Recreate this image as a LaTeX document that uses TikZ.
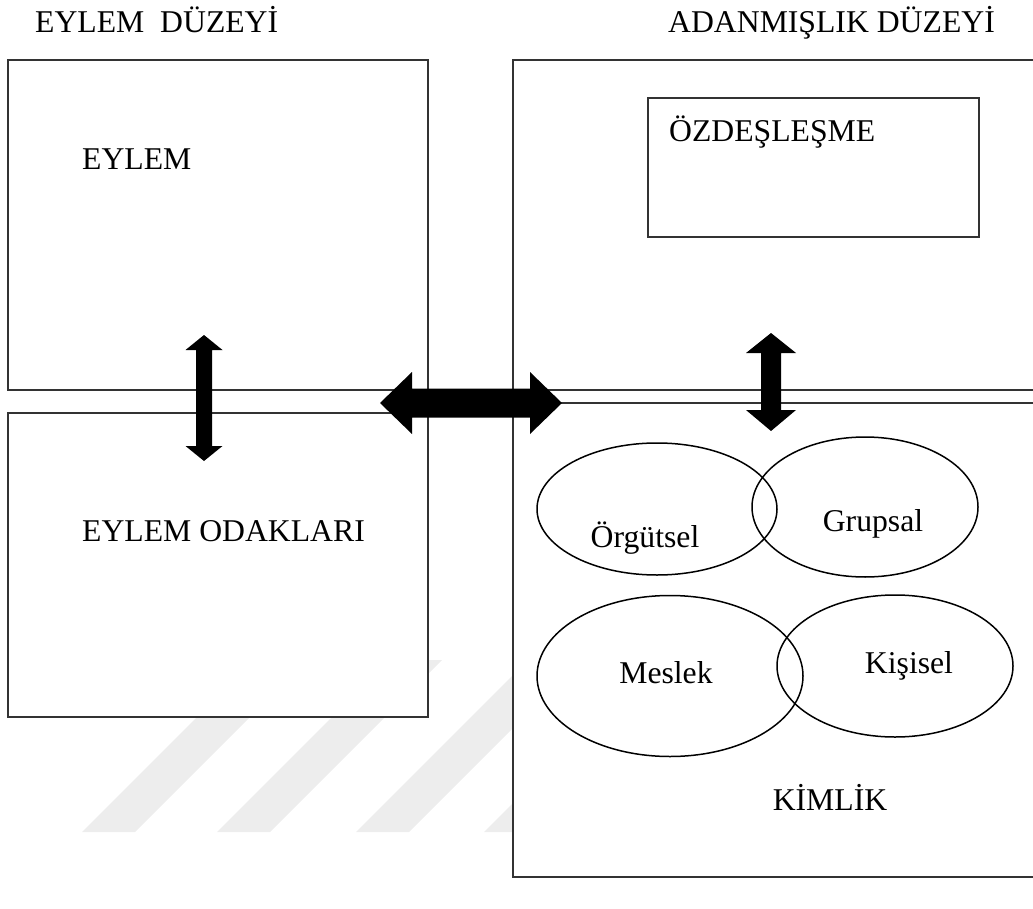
\documentclass[tikz,border=0pt]{standalone}
\usepackage{fontspec}
\setmainfont{Liberation Serif}
\usetikzlibrary{calc,shapes.geometric}
\begin{document}
\begin{tikzpicture}[x=1pt,y=-1pt,
  frame/.style={draw=black!80, line width=1.1pt, fill=white, inner sep=0pt, outer sep=0pt, anchor=north west},
  oval/.style={draw=black, line width=1.5pt, ellipse, inner sep=0pt, outer sep=0pt},
  lbl/.style={font=\fontsize{31.7pt}{38pt}\selectfont, inner sep=0pt, anchor=base west},
  clbl/.style={lbl, anchor=base},
  stripe/.style={fill=black!7},
  bigarrow/.style={fill=black}]
\path[use as bounding box] (0,0) rectangle (1033,909);

% faint diagonal stripes in the background
\foreach \b in {82,217,356,484}
  \fill[stripe] (\b,832) -- (\b+53,832) -- (\b+225,660) -- (\b+172,660) -- cycle;

% level frames
\node[frame, minimum width=420pt, minimum height=330pt] (eylem) at (8,60) {};
\node[frame, minimum width=420pt, minimum height=304pt] (odak) at (8,413) {};
\node[frame, minimum width=540pt, minimum height=330pt] (adanmislik) at (513,60) {};
\node[frame, minimum width=540pt, minimum height=474pt] (kimlik) at (513,403) {};
\node[frame, minimum width=331pt, minimum height=139pt] (ozdes) at (648,98) {};

% identity circles
\node[oval, minimum width=240pt, minimum height=132pt] (orgutsel) at (657,509) {};
\node[oval, minimum width=226pt, minimum height=140pt] (grupsal) at (865,507) {};
\node[oval, minimum width=266pt, minimum height=161pt] (meslek) at (670,676) {};
\node[oval, minimum width=236pt, minimum height=142pt] (kisisel) at (895,666) {};

% texts
\node[lbl] (t1) at (35,33) {EYLEM\ \ DÜZEYİ};
\node[lbl] (t2) at (668,33) {ADANMIŞLIK DÜZEYİ};
\node[lbl] (t3) at (82,170) {EYLEM};
\node[lbl] (t4) at (669,142) {ÖZDEŞLEŞME};
\node[lbl] (t5) at (82,541) {EYLEM ODAKLARI};
\node[clbl] (t6) at (645,547) {Örgütsel};
\node[clbl] (t7) at (873,531) {Grupsal};
\node[clbl] (t8) at (666,683) {Meslek};
\node[clbl] (t9) at (909,673) {Kişisel};
\node[clbl] (t10) at (830,810) {KİMLİK};

% double-headed arrows
\coordinate (hL) at (380,403);
\coordinate (hR) at (562,403);
\fill[bigarrow] (hL) -- ++(32,-31) -- ++(0,16.5) -- ($(hR)+(-32,-14.5)$) -- ++(0,-16.5)
  -- (hR) -- ++(-32,31) -- ++(0,-16.5) -- ($(hL)+(32,14.5)$) -- ++(0,16.5) -- cycle;

\coordinate (vaT) at (204,335);
\coordinate (vaB) at (204,461);
\fill[bigarrow] (vaT) -- ++(18.5,15) -- ++(-10.5,0) -- ($(vaB)+(8,-15)$) -- ++(10.5,0)
  -- (vaB) -- ++(-18.5,-15) -- ++(10.5,0) -- ($(vaT)+(-8,15)$) -- ++(-10.5,0) -- cycle;

\coordinate (vbT) at (771,333);
\coordinate (vbB) at (771,431);
\fill[bigarrow] (vbT) -- ++(25,20) -- ++(-15,0) -- ($(vbB)+(10,-21)$) -- ++(15,0)
  -- (vbB) -- ++(-25,-21) -- ++(15,0) -- ($(vbT)+(-10,20)$) -- ++(-15,0) -- cycle;
\end{tikzpicture}
\end{document}
